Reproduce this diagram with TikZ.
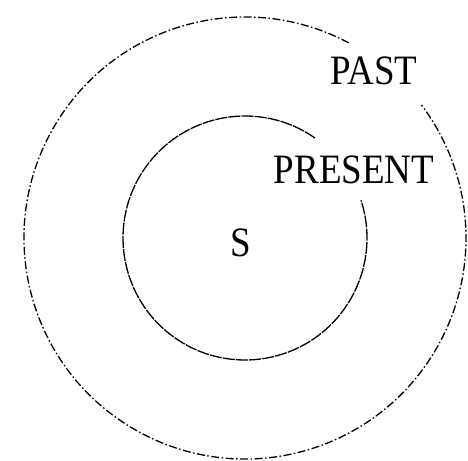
\documentclass[tikz,border=0pt]{standalone}
\usepackage{fontspec}
\usepackage{graphicx}
\setmainfont{Liberation Serif}
\newcommand{\tallcaps}[1]{\scalebox{1}[1.13]{#1}}
\begin{document}
\begin{tikzpicture}[x=1pt,y=1pt,
  ring/.style={line width=1.3pt},
  outerring/.style={ring, dash pattern=on 8pt off 2.5pt on 1.5pt off 2.5pt},
  innerring/.style={ring, dash pattern=on 12pt off 1.2pt},
  lbl/.style={font=\fontsize{37}{40}\selectfont, inner sep=0pt}]
\useasboundingbox (0,0) rectangle (468,460);
\coordinate (c) at (245,222);
\draw[outerring] ([shift={(62:221)}]c) arc[start angle=62, end angle=397, radius=221];
\draw[innerring] ([shift={(55:122)}]c) arc[start angle=55, end angle=378, radius=122];
\node[lbl] (past) at (374,389) {\tallcaps{PAST}};
\node[lbl] (present) at (354,290) {\tallcaps{PRESENT}};
\node[lbl] (s) at (241,217) {\tallcaps{S}};
\end{tikzpicture}
\end{document}
